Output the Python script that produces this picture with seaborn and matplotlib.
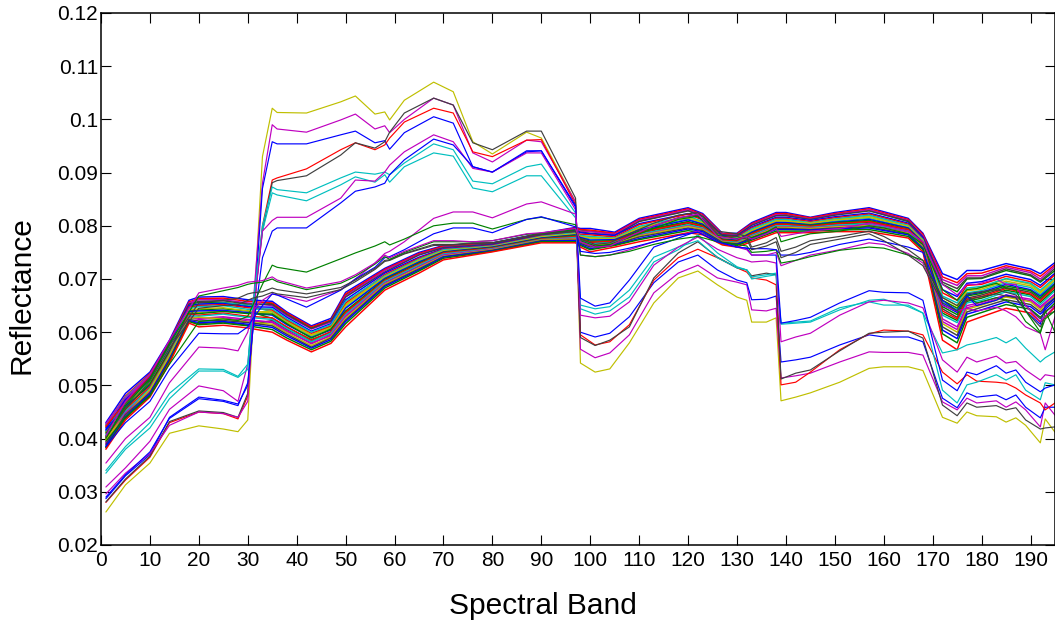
import pandas as pd
import seaborn as sns
import matplotlib
matplotlib.use('Agg')
import matplotlib.pyplot as plt

# reflectance values are stored x 10000
outlier_bands = [1,5,10,14,20,25,28,30,31,33,35,36,42,49,52,56,58,59,62,68,72,76,80,87,90,97,98,101,104,108,113,118,122,126,130,132,133,136,138,139,142,145,151,157,160,165,168,172,175,177,179,183,185,187,189,192,193,195]
dense_bands = [1,5,10,14,18,20,25,30,35,38,43,47,50,58,65,70,80,90,97,98,100,105,110,120,123,127,130,133,138,140,145,150,157,165,168,172,175,177,180,185,190,192,195]

low_yellow = [262,313,354,410,424,418,413,435,604,930,1021,1013,1012,1033,1044,1010,1014,999,1036,1070,1052,958,935,976,965,845,542,525,531,580,655,702,715,689,666,660,619,619,627,471,478,486,506,532,535,535,528,440,429,450,443,441,431,439,425,392,437,412]
low_magenta = [309,345,395,455,499,490,470,540,640,880,990,982,976,999,1010,982,988,975,1000,1040,1027,937,920,961,958,845,568,552,561,595,674,711,726,702,694,689,642,640,645,514,518,523,544,563,562,562,557,469,454,476,467,471,459,469,454,422,467,444]
low_blue = [287,330,370,440,478,472,465,500,600,870,958,954,954,971,978,956,960,944,975,1005,993,911,901,939,941,835,600,591,598,629,693,732,745,717,698,693,661,662,668,544,548,553,576,595,591,591,582,476,458,486,478,482,473,482,459,439,459,459]
low_red = [280,322,365,430,450,447,437,480,620,800,886,890,907,943,956,943,952,965,995,1021,1012,939,930,961,962,840,595,576,582,614,698,740,756,740,721,713,702,698,689,501,506,525,567,597,604,602,595,525,503,520,508,506,504,495,482,467,454,467]
low_gray = [281,324,367,432,452,449,440,485,630,790,881,885,894,933,956,946,958,976,1012,1040,1027,956,943,978,978,852,590,575,585,610,702,749,770,741,721,717,706,711,708,512,523,529,565,598,600,602,589,463,443,467,459,462,454,458,435,418,420,422]
mid_cyan1 = [335,380,420,475,527,527,515,530,640,800,873,868,862,890,901,897,901,896,918,954,943,884,879,911,916,824,651,644,648,679,741,760,772,740,721,717,704,708,711,617,619,621,646,657,651,651,636,561,567,576,580,590,580,590,570,544,552,563]
mid_cyan2 = [340,385,430,485,531,530,517,540,650,790,862,858,847,877,892,882,896,882,911,937,931,871,864,894,894,815,644,634,640,666,732,755,783,749,723,717,700,705,708,615,617,619,642,660,662,648,636,491,467,501,506,520,510,520,491,473,505,501]
mid_magenta = [296,335,372,425,450,447,440,470,620,790,810,816,816,852,886,884,901,914,939,971,958,908,901,937,937,830,632,627,630,657,726,760,779,756,740,735,732,734,730,582,591,598,632,657,660,655,646,548,525,553,544,555,542,545,529,510,520,517]
mid_blue = [290,332,375,438,475,470,462,505,600,740,790,796,796,843,865,873,880,896,924,963,952,911,901,941,941,838,664,649,655,698,760,777,790,770,760,758,745,745,745,617,622,628,655,678,675,674,660,510,490,525,520,537,523,529,506,488,495,501]
peak_magenta = [354,400,440,505,572,570,565,600,640,660,672,670,658,680,700,730,748,752,770,814,826,826,815,841,845,822,745,742,745,755,770,782,790,770,760,755,745,745,750,725,735,745,755,768,765,748,730,650,640,645,640,647,640,629,610,598,567,629]
peak_green = [395,440,480,540,620,625,622,630,650,690,726,722,713,738,749,762,770,764,775,800,805,805,794,812,816,802,745,742,745,752,765,775,780,770,765,762,750,752,755,730,735,742,754,760,758,745,735,660,645,668,655,665,660,650,620,598,640,600]
peak_blue = [385,430,470,530,598,597,597,610,625,650,672,670,647,679,700,722,740,742,755,785,796,796,787,812,817,798,752,748,750,758,770,782,788,770,760,758,757,757,755,745,745,750,765,775,770,760,750,660,640,668,650,660,670,665,640,615,650,665]
top_magenta = [405,470,520,585,674,683,688,694,695,697,704,698,683,695,708,730,745,740,752,772,772,770,772,785,787,795,770,760,762,780,800,815,822,780,775,780,775,785,795,780,785,790,795,805,800,790,770,690,670,690,690,700,690,690,650,620,630,650]
top_green = [400,462,512,578,668,678,684,690,692,694,700,695,680,692,705,728,742,737,750,770,770,770,772,784,786,793,772,762,765,778,795,812,818,782,776,780,778,788,798,770,778,785,790,800,796,785,765,680,660,680,682,692,682,680,640,600,625,640]
top_gray1 = [410,465,515,575,655,660,664,672,674,676,683,680,672,684,698,720,735,736,748,765,765,768,768,780,785,790,775,765,768,785,805,820,825,790,785,780,760,768,778,752,760,772,780,790,780,755,735,665,650,672,675,680,675,670,650,625,640,650]
top_gray2 = [402,455,508,570,645,650,652,660,664,668,675,672,665,680,695,718,733,735,747,763,764,767,768,779,784,789,770,760,762,780,800,815,820,785,780,775,755,762,770,740,750,765,775,785,772,745,725,655,640,660,665,672,668,665,640,610,630,640]

dense01 = [430,485,525,585,660,666,667,661,658,638,612,626,675,720,750,763,768,786,797,795,795,788,814,834,823,786,786,806,825,825,816,825,834,814,786,710,699,716,716,729,719,710,731]
dense02 = [425,480,522,582,657,663,664,658,655,636,610,623,672,718,748,762,767,785,796,793,792,786,812,832,821,785,785,804,823,823,815,823,832,812,784,704,693,710,711,725,715,705,727]
dense03 = [428,476,519,578,655,661,661,655,650,631,606,619,668,716,746,760,766,784,794,790,789,784,810,830,819,784,783,802,821,820,813,821,830,810,781,699,688,706,706,722,712,700,724]
dense04 = [421,472,515,580,653,658,659,653,652,633,607,621,666,713,745,759,766,783,792,788,786,782,808,828,818,782,782,801,819,819,812,820,828,809,779,694,682,702,702,719,708,696,720]
dense05 = [418,473,513,574,650,653,654,648,647,628,602,616,661,711,741,757,764,782,790,787,785,782,804,823,813,781,780,798,816,816,810,817,824,805,778,680,667,692,695,709,699,688,711]
dense06 = [423,468,517,570,647,650,652,646,642,623,598,612,655,708,739,756,763,781,788,784,783,779,802,822,811,779,779,796,814,814,808,815,822,803,775,674,660,688,690,705,695,684,708]
dense07 = [414,466,507,572,644,648,650,643,644,625,600,614,658,706,737,755,762,780,787,782,780,777,799,818,808,778,777,794,812,812,806,813,820,801,774,668,655,683,686,701,692,679,703]
dense08 = [411,464,504,568,642,644,646,640,636,618,594,608,650,704,735,753,761,779,785,780,777,776,796,815,806,777,776,791,809,809,805,811,816,799,772,660,646,678,681,696,687,674,699]
dense09 = [416,460,501,565,639,640,641,637,632,614,590,604,645,701,732,751,760,777,783,778,773,774,792,811,803,775,773,788,806,806,802,807,812,796,769,652,637,670,675,690,680,668,692]
dense10 = [405,457,503,563,636,635,639,635,634,616,589,606,640,699,730,750,759,776,782,776,771,772,790,808,801,774,772,786,804,804,801,806,810,794,767,648,633,668,673,687,678,665,690]
dense11 = [401,455,497,560,634,632,636,630,627,610,585,601,637,697,728,749,758,775,780,775,769,771,787,806,799,773,771,785,803,803,799,804,808,793,766,640,625,662,667,682,672,659,685]
dense12 = [408,451,494,558,631,630,634,628,624,607,582,598,633,695,726,747,757,774,778,772,766,769,784,802,796,771,769,782,800,800,797,801,804,790,763,632,618,655,660,676,667,652,678]
dense13 = [393,448,490,553,628,624,627,621,620,603,578,595,630,692,723,745,756,773,776,770,763,768,782,800,794,770,767,780,798,798,796,799,801,787,761,625,610,650,656,670,662,648,672]
dense14 = [398,444,492,556,626,628,625,619,615,599,575,591,626,690,721,743,755,773,775,769,762,767,781,799,793,770,767,779,797,797,795,798,800,786,760,616,600,643,651,666,657,642,668]
dense15 = [389,445,486,550,624,621,622,618,612,596,572,589,623,688,719,742,754,772,773,767,760,765,779,796,791,769,766,777,795,795,793,796,798,784,758,610,594,638,647,661,652,638,664]
dense16 = [386,441,484,548,622,618,620,615,609,593,570,586,620,686,717,741,753,771,772,765,757,764,776,794,789,767,765,775,793,793,792,794,796,783,757,604,588,634,642,657,648,634,660]
dense17 = [383,438,481,545,620,614,617,612,605,589,567,583,616,683,715,739,752,770,770,763,755,763,774,791,786,766,763,773,790,790,790,792,793,780,755,597,580,628,637,652,643,628,655]
dense18 = [380,435,478,542,617,610,613,608,600,585,563,579,610,679,711,736,751,768,768,760,751,760,770,787,783,764,760,770,787,787,787,789,789,777,751,585,567,619,629,645,636,619,647]
dense19 = [412,470,510,572,652,656,656,650,654,635,608,622,670,717,747,761,767,785,795,792,790,785,809,829,818,783,783,803,820,821,813,822,829,808,780,690,676,700,701,716,706,694,716]
dense20 = [396,452,496,560,635,637,640,636,640,622,595,611,652,705,738,754,762,780,786,781,778,776,797,816,806,777,775,792,810,810,804,812,818,800,771,665,650,680,684,700,690,676,702]
dense21 = [403,462,500,566,640,642,644,640,626,609,586,600,638,696,727,748,758,775,779,774,768,770,786,804,798,772,770,784,802,802,798,803,806,791,764,636,622,658,664,679,670,656,681]
dense22 = [391,450,488,552,630,626,629,624,618,601,580,593,629,691,724,746,756,772,777,771,765,766,783,801,795,770,768,781,799,799,796,800,803,788,762,620,605,646,653,668,659,645,670]
dense23 = [426,478,520,576,648,652,655,651,638,620,592,609,647,702,733,752,760,778,784,779,775,775,794,813,804,776,774,790,808,807,803,809,814,797,770,656,642,674,678,693,684,671,696]
dense24 = [384,442,483,547,621,616,619,613,622,605,583,597,634,694,725,747,757,776,780,773,767,771,788,807,800,773,771,787,805,805,800,805,809,792,765,644,628,664,670,684,675,662,687]

y_ticks = [0.02,0.03,0.04,0.05,0.06,0.07,0.08,0.09,0.1,0.11,0.12]
y_tick_labels = ['0.02','0.03','0.04','0.05','0.06','0.07','0.08','0.09','0.1','0.11','0.12']
x_ticks = list(range(0, 200, 10))

# matlab default line colours
blue, green, red, cyan, magenta, yellow, gray = '#0000ff', '#008000', '#ff0000', '#00bfbf', '#bf00bf', '#bfbf00', '#404040'
dense_cycle = [blue, green, red, cyan, magenta, yellow, gray]

outliers = [('low_yellow', low_yellow, yellow), ('low_magenta', low_magenta, magenta), ('low_blue', low_blue, blue),
            ('low_red', low_red, red), ('low_gray', low_gray, gray), ('mid_cyan1', mid_cyan1, cyan),
            ('mid_cyan2', mid_cyan2, cyan), ('mid_magenta', mid_magenta, magenta), ('mid_blue', mid_blue, blue),
            ('peak_magenta', peak_magenta, magenta), ('peak_green', peak_green, green), ('peak_blue', peak_blue, blue),
            ('top_gray1', top_gray1, gray), ('top_gray2', top_gray2, gray), ('top_green', top_green, green),
            ('top_magenta', top_magenta, magenta)]
dense = [dense01, dense19, dense02, dense23, dense03, dense20, dense04, dense05, dense21, dense06, dense07, dense22,
         dense08, dense24, dense09, dense10, dense11, dense12, dense13, dense14, dense15, dense16, dense17, dense18]


def to_long(rows, bands):
    frames = []
    for name, values in rows:
        frames.append(pd.DataFrame({'band': bands, 'reflectance': [v / 10000 for v in values], 'series': name}))
    return pd.concat(frames, ignore_index=True)


sns.set_style('white')
plt.rcParams['font.family'] = ['Liberation Sans', 'DejaVu Sans']

fig = plt.figure(figsize=(10.55, 6.23), dpi=100)
ax = fig.add_axes([101 / 1055, 1 - 545 / 623, 954 / 1055, 532 / 623])

dense_rows = [(f'dense{i}', row) for i, row in enumerate(dense)]
dense_palette = {f'dense{i}': dense_cycle[i % 7] for i in range(len(dense))}
sns.lineplot(data=to_long(dense_rows, dense_bands), x='band', y='reflectance', hue='series', palette=dense_palette,
             estimator=None, linewidth=1.05, legend=False, ax=ax)

outlier_rows = [(name, row) for name, row, _ in outliers]
outlier_palette = {name: colour for name, _, colour in outliers}
sns.lineplot(data=to_long(outlier_rows, outlier_bands), x='band', y='reflectance', hue='series', palette=outlier_palette,
             estimator=None, linewidth=0.85, legend=False, ax=ax)

ax.set_xlim(0, 195)
ax.set_ylim(0.02, 0.12)
ax.set_xticks(x_ticks)
ax.set_yticks(y_ticks)
ax.set_yticklabels(y_tick_labels)
ax.tick_params(direction='in', length=7, width=0.8, top=True, right=True, left=True, bottom=True,
               labelsize=15, colors='black', pad=2)
ax.tick_params(axis='x', pad=4)
for spine in ax.spines.values():
    spine.set_visible(True)
    spine.set_color('black')
    spine.set_linewidth(1.1)
ax.set_xlabel('Spectral Band', fontsize=21.5, color='black', va='top')
ax.set_ylabel('Reflectance', fontsize=21.5, color='black', va='bottom')
ax.xaxis.set_label_coords(0.463, -0.088)
ax.yaxis.set_label_coords(-0.069, 0.47)

fig.savefig('out.png', dpi=100)
